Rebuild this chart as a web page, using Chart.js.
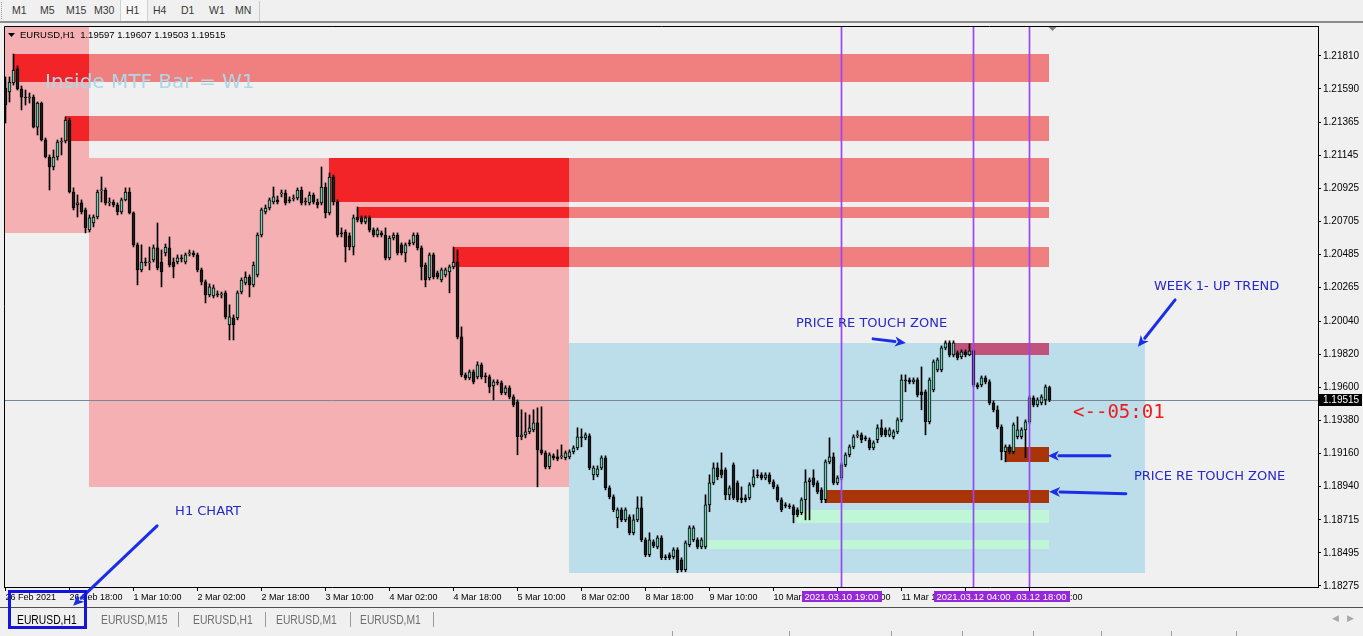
<!DOCTYPE html>
<html>
<head>
<meta charset="utf-8">
<script src="https://cdn.jsdelivr.net/npm/chart.js@4.4.1/dist/chart.umd.min.js"></script>
<style>
  body { margin: 0; width: 1363px; height: 636px; overflow: hidden; background: #f0f0f0; position: relative;
         font-family: "Liberation Sans", Arial, sans-serif; }
  #toolbar { position: absolute; left: 0; top: 0; width: 1363px; height: 21px; background: #f0f0f0;
             border-bottom: 2px solid #8c8c8c; }
  #toolbar .grip { position: absolute; left: 1px; top: 2px; height: 17px; border-left: 1px dotted #9a9a9a; }
  #toolbar .sep { position: absolute; top: 1px; height: 20px; border-left: 1px solid #c8c8c8; }
  #toolbar .tb { position: absolute; top: 4px; font-size: 10.5px; color: #383838; }
  #toolbar .pressed { position: absolute; left: 120px; top: 0; width: 26px; height: 21px; background: #f7f7f7;
                      border-left: 1px solid #d0d0d0; border-right: 1px solid #d0d0d0; }
  #wrap { position: absolute; left: 0; top: 23px; width: 1363px; height: 585px; }
  #tabs { position: absolute; left: 0; top: 607px; width: 1363px; height: 23px; border-top: 1px solid #505050; }
  #tabs .tab { position: absolute; top: 5px; font-size: 12px; color: #6d6d6d; transform: scaleX(0.86); transform-origin: left; }
  #tabs .bar { position: absolute; top: 4px; height: 15px; border-left: 1px solid #9a9a9a; }
  #tabs .arr { position: absolute; top: 5px; font-size: 9px; color: #a8a8a8; }
  #status .s { position: absolute; top: 631px; height: 5px; border-left: 1px solid #a0a0a0; }
  #focus { position: absolute; left: 8px; top: 590px; width: 73px; height: 33px; border: 3px solid #1414dc; }
</style>
</head>
<body>
<div id="toolbar">
  <span class="grip"></span>
  <span class="pressed"></span>
  <span class="tb" style="left:12px">M1</span>
  <span class="tb" style="left:40px">M5</span>
  <span class="tb" style="left:66px">M15</span>
  <span class="tb" style="left:94px">M30</span>
  <span class="tb" style="left:126px">H1</span>
  <span class="tb" style="left:153px">H4</span>
  <span class="tb" style="left:181px">D1</span>
  <span class="tb" style="left:209px">W1</span>
  <span class="tb" style="left:235px">MN</span>
  <span class="sep" style="left:259px"></span>
</div>

<div id="wrap"><canvas id="chart"></canvas></div>

<div id="tabs">
  <span class="tab" style="left:17px;color:#000">EURUSD,H1</span>
  <span class="tab" style="left:101px">EURUSD,M15</span>
  <span class="bar" style="left:178px"></span>
  <span class="tab" style="left:193px">EURUSD,H1</span>
  <span class="bar" style="left:265px"></span>
  <span class="tab" style="left:276px">EURUSD,M1</span>
  <span class="bar" style="left:350px"></span>
  <span class="tab" style="left:360px">EURUSD,M1</span>
  <span class="bar" style="left:433px"></span>
  <span class="arr" style="left:1332px">&#9664;</span>
  <span class="arr" style="left:1347px">&#9654;</span>
</div>
<div id="status">
  <span class="s" style="left:672px"></span><span class="s" style="left:789px"></span>
  <span class="s" style="left:891px"></span><span class="s" style="left:962px"></span>
  <span class="s" style="left:1033px"></span><span class="s" style="left:1101px"></span>
  <span class="s" style="left:1171px"></span><span class="s" style="left:1236px"></span>
</div>
<div id="focus"></div>

<script>
/** EURUSD H1 candles, 26 Feb 02:00 .. 12 Mar 23:00 (bar index = position in arrays) **/
const opens = [
  1.21595,1.21569,1.21629,1.21722,1.21589,1.21535,1.21529,1.21535,1.21335,1.21495,
  1.21249,1.21135,1.21069,1.21135,1.21235,1.21242,1.21382,1.20902,1.20815,1.20829,
  1.20782,1.20649,1.20695,1.20735,1.20909,1.20915,1.20829,1.20835,1.20815,1.20769,
  1.20849,1.20902,1.20762,1.20549,1.20382,1.20435,1.20429,1.20449,1.20529,1.20435,
  1.20495,1.20529,1.20435,1.20435,1.20462,1.20435,1.20489,1.20495,1.20482,1.20382,
  1.20302,1.20215,1.20209,1.20222,1.20215,1.20229,1.20015,1.20062,1.20062,1.20235,
  1.20295,1.20335,1.20282,1.20349,1.20615,1.20769,1.20795,1.20835,1.20849,1.20889,
  1.20895,1.20849,1.20855,1.20862,1.20915,1.20842,1.20829,1.20882,1.20835,1.20829,
  1.20935,1.20762,1.21002,1.20835,1.20629,1.20635,1.20609,1.20535,1.20735,1.20729,
  1.20702,1.20729,1.20649,1.20615,1.20629,1.20615,1.20462,1.20595,1.20615,1.20549,
  1.20495,1.20562,1.20562,1.20615,1.20529,1.20415,1.20329,1.20482,1.20362,1.20315,
  1.20349,1.20369,1.20402,1.20435,1.19935,1.19682,1.19662,1.19702,1.19669,1.19749,
  1.19675,1.19669,1.19609,1.19635,1.19629,1.19562,1.19595,1.19535,1.19502,1.19269,
  1.19282,1.19302,1.19315,1.19362,1.19182,1.19162,1.19069,1.19142,1.19135,1.19135,
  1.19129,1.19135,1.19169,1.19195,1.19269,1.19262,1.19275,1.19015,1.19015,1.19062,
  1.19129,1.18929,1.18869,1.18729,1.18782,1.18715,1.18735,1.18629,1.18715,1.18795,
  1.18582,1.18482,1.18569,1.18535,1.18595,1.18469,1.18482,1.18469,1.18515,1.18449,
  1.18382,1.18549,1.18582,1.18582,1.18535,1.18535,1.18815,1.18962,1.19062,1.19049,
  1.19049,1.18882,1.19082,1.18962,1.18862,1.18862,1.18862,1.18949,1.19015,1.19015,
  1.18995,1.19015,1.18969,1.18935,1.18849,1.18815,1.18809,1.18802,1.18782,1.18762,
  1.18849,1.18969,1.18995,1.18962,1.18915,1.18849,1.19102,1.19135,1.18962,1.18995,
  1.19082,1.19149,1.19202,1.19275,1.19282,1.19262,1.19249,1.19195,1.19249,1.19329,
  1.19315,1.19282,1.19269,1.19302,1.19382,1.19649,1.19649,1.19635,1.19649,1.19569,
  1.19569,1.19369,1.19582,1.19715,1.19715,1.19862,1.19895,1.19815,1.19829,1.19802,
  1.19835,1.19815,1.19842,1.19615,1.19615,1.19662,1.19635,1.19495,1.19449,1.19335,
  1.19169,1.19202,1.19169,1.19269,1.19269,1.19315,1.19369,1.19529,1.19482,1.19495,
  1.19515,1.19597
];
const highs = [
  1.21669,1.21669,1.21822,1.21742,1.21609,1.21582,1.21562,1.21549,1.21502,1.21502,
  1.21262,1.21149,1.21182,1.21249,1.21262,1.21402,1.21395,1.20929,1.20882,1.20849,
  1.20795,1.20749,1.20749,1.20915,1.21002,1.20929,1.20862,1.20849,1.20829,1.20862,
  1.20929,1.20929,1.20769,1.20562,1.20549,1.20462,1.20535,1.20549,1.20695,1.20515,
  1.20555,1.20602,1.20462,1.20482,1.20482,1.20495,1.20515,1.20509,1.20495,1.20395,
  1.20315,1.20289,1.20282,1.20242,1.20235,1.20242,1.20149,1.20082,1.20242,1.20329,
  1.20369,1.20349,1.20435,1.20629,1.20795,1.20815,1.20862,1.20935,1.20875,1.20915,
  1.20915,1.20869,1.20882,1.20929,1.20935,1.20862,1.20902,1.20895,1.20855,1.21069,
  1.20962,1.21029,1.21015,1.20849,1.20662,1.20649,1.20629,1.20749,1.20802,1.20742,
  1.20742,1.20742,1.20662,1.20662,1.20642,1.20662,1.20609,1.20629,1.20629,1.20562,
  1.20562,1.20582,1.20629,1.20629,1.20542,1.20429,1.20495,1.20495,1.20375,1.20395,
  1.20395,1.20415,1.20535,1.20515,1.20002,1.19695,1.19715,1.19715,1.19769,1.19762,
  1.19695,1.19682,1.19649,1.19649,1.19642,1.19609,1.19609,1.19549,1.19515,1.19449,
  1.19429,1.19415,1.19449,1.19462,1.19469,1.19175,1.19162,1.19155,1.19182,1.19215,
  1.19175,1.19182,1.19209,1.19329,1.19322,1.19295,1.19289,1.19075,1.19075,1.19142,
  1.19142,1.18942,1.18882,1.18795,1.18795,1.18795,1.18749,1.18749,1.18869,1.18869,
  1.18595,1.18629,1.18582,1.18609,1.18609,1.18482,1.18495,1.18529,1.18529,1.18462,
  1.18575,1.18675,1.18675,1.18595,1.18595,1.18882,1.19015,1.19095,1.19095,1.19162,
  1.19062,1.18942,1.19095,1.18975,1.18935,1.18882,1.18962,1.19049,1.19049,1.19029,
  1.19029,1.19029,1.18982,1.18949,1.18862,1.18829,1.18822,1.18815,1.18795,1.18862,
  1.19049,1.18995,1.19049,1.18975,1.18929,1.19115,1.19262,1.19162,1.19009,1.19095,
  1.19162,1.19215,1.19282,1.19309,1.19295,1.19275,1.19262,1.19242,1.19349,1.19382,
  1.19329,1.19329,1.19315,1.19395,1.19682,1.19682,1.19662,1.19662,1.19662,1.19735,
  1.19582,1.19662,1.19782,1.19795,1.19875,1.19909,1.19909,1.19909,1.19842,1.19849,
  1.19849,1.19889,1.19849,1.19629,1.19675,1.19675,1.19649,1.19509,1.19475,1.19349,
  1.19215,1.19215,1.19362,1.19402,1.19329,1.19382,1.19542,1.19542,1.19529,1.19549,
  1.19615,1.19607
];
const lows = [
  1.21362,1.21502,1.21615,1.21582,1.21449,1.21482,1.21495,1.21329,1.21282,1.21242,
  1.21129,1.20915,1.21049,1.21115,1.21149,1.21229,1.20895,1.20782,1.20735,1.20755,
  1.20629,1.20635,1.20669,1.20722,1.20835,1.20815,1.20809,1.20802,1.20749,1.20755,
  1.20842,1.20755,1.20535,1.20282,1.20369,1.20409,1.20382,1.20435,1.20382,1.20269,
  1.20475,1.20402,1.20329,1.20422,1.20435,1.20422,1.20475,1.20469,1.20369,1.20282,
  1.20162,1.20202,1.20195,1.20202,1.20195,1.20055,1.19915,1.19915,1.20049,1.20222,
  1.20282,1.20202,1.20269,1.20335,1.20602,1.20755,1.20782,1.20822,1.20822,1.20869,
  1.20815,1.20829,1.20842,1.20849,1.20815,1.20815,1.20815,1.20822,1.20795,1.20815,
  1.20729,1.20749,1.20815,1.20602,1.20602,1.20435,1.20515,1.20482,1.20702,1.20689,
  1.20689,1.20635,1.20602,1.20602,1.20602,1.20449,1.20449,1.20582,1.20482,1.20482,
  1.20435,1.20542,1.20549,1.20515,1.20315,1.20269,1.20315,1.20322,1.20322,1.20302,
  1.20335,1.20229,1.20389,1.19922,1.19669,1.19649,1.19649,1.19622,1.19655,1.19655,
  1.19629,1.19562,1.19515,1.19615,1.19549,1.19549,1.19522,1.19469,1.19149,1.19249,
  1.19262,1.19289,1.19302,1.18935,1.19149,1.19055,1.19055,1.19115,1.19109,1.19122,
  1.19115,1.19122,1.19155,1.19182,1.19202,1.19249,1.19049,1.18982,1.19002,1.19049,
  1.18915,1.18855,1.18769,1.18662,1.18702,1.18702,1.18615,1.18615,1.18702,1.18569,
  1.18469,1.18469,1.18529,1.18522,1.18449,1.18449,1.18449,1.18455,1.18362,1.18369,
  1.18369,1.18535,1.18569,1.18522,1.18522,1.18522,1.18769,1.18949,1.18982,1.18995,
  1.18849,1.18849,1.18849,1.18835,1.18829,1.18835,1.18849,1.18935,1.18995,1.18982,
  1.18982,1.18955,1.18922,1.18835,1.18769,1.18795,1.18789,1.18695,1.18735,1.18749,
  1.18715,1.18715,1.18935,1.18889,1.18829,1.18829,1.19089,1.18949,1.18949,1.18982,
  1.19069,1.19135,1.19189,1.19262,1.19229,1.19242,1.19182,1.19182,1.19229,1.19269,
  1.19269,1.19269,1.19255,1.19289,1.19369,1.19569,1.19622,1.19622,1.19535,1.19449,
  1.19282,1.19355,1.19569,1.19702,1.19702,1.19849,1.19802,1.19802,1.19782,1.19789,
  1.19802,1.19809,1.19602,1.19589,1.19602,1.19622,1.19482,1.19435,1.19322,1.19115,
  1.19102,1.19155,1.19155,1.19255,1.19255,1.19129,1.19355,1.19469,1.19469,1.19482,
  1.19482,1.19503
];
const closes = [
  1.21482,1.21635,1.21715,1.21589,1.21535,1.21529,1.21535,1.21335,1.21495,1.21249,
  1.21135,1.21069,1.21135,1.21235,1.21242,1.21382,1.20902,1.20795,1.20829,1.20769,
  1.20662,1.20729,1.20735,1.20902,1.20915,1.20829,1.20835,1.20815,1.20769,1.20849,
  1.20902,1.20762,1.20549,1.20382,1.20435,1.20429,1.20435,1.20529,1.20395,1.20369,
  1.20535,1.20415,1.20402,1.20462,1.20455,1.20482,1.20495,1.20482,1.20382,1.20302,
  1.20215,1.20269,1.20262,1.20215,1.20222,1.20069,1.20069,1.20015,1.20229,1.20315,
  1.20335,1.20282,1.20415,1.20615,1.20782,1.20795,1.20849,1.20869,1.20835,1.20895,
  1.20829,1.20842,1.20862,1.20915,1.20829,1.20835,1.20882,1.20835,1.20815,1.20935,
  1.20762,1.21002,1.20835,1.20615,1.20622,1.20535,1.20535,1.20729,1.20715,1.20702,
  1.20729,1.20649,1.20615,1.20649,1.20615,1.20462,1.20595,1.20615,1.20495,1.20495,
  1.20549,1.20555,1.20615,1.20529,1.20402,1.20315,1.20482,1.20335,1.20335,1.20382,
  1.20382,1.20402,1.20435,1.19935,1.19682,1.19662,1.19702,1.19635,1.19749,1.19669,
  1.19669,1.19602,1.19635,1.19629,1.19562,1.19595,1.19535,1.19482,1.19269,1.19282,
  1.19302,1.19329,1.19362,1.19182,1.19162,1.19069,1.19149,1.19129,1.19122,1.19142,
  1.19162,1.19169,1.19195,1.19269,1.19262,1.19282,1.19062,1.19062,1.19055,1.19129,
  1.18929,1.18869,1.18782,1.18782,1.18715,1.18782,1.18629,1.18715,1.18795,1.18582,
  1.18482,1.18582,1.18542,1.18595,1.18462,1.18462,1.18462,1.18515,1.18382,1.18382,
  1.18562,1.18662,1.18662,1.18535,1.18582,1.18815,1.18962,1.19062,1.19002,1.19015,
  1.18882,1.18929,1.18862,1.18849,1.18849,1.18849,1.18949,1.19002,1.19009,1.18995,
  1.19015,1.18969,1.18935,1.18849,1.18782,1.18809,1.18802,1.18749,1.18749,1.18849,
  1.18969,1.18982,1.18949,1.18902,1.18849,1.19102,1.19135,1.18962,1.18995,1.19082,
  1.19149,1.19202,1.19269,1.19282,1.19249,1.19255,1.19195,1.19229,1.19329,1.19282,
  1.19282,1.19315,1.19302,1.19382,1.19649,1.19642,1.19635,1.19649,1.19549,1.19549,
  1.19369,1.19649,1.19769,1.19782,1.19862,1.19895,1.19815,1.19895,1.19795,1.19835,
  1.19815,1.19842,1.19615,1.19602,1.19662,1.19635,1.19495,1.19449,1.19335,1.19169,
  1.19202,1.19169,1.19349,1.19315,1.19315,1.19369,1.19529,1.19482,1.19515,1.19535,
  1.19602,1.19515
];

/** Axis labels **/
const yTickValues = [1.21810, 1.21590, 1.21365, 1.21145, 1.20925, 1.20705, 1.20485, 1.20265, 1.20040,
                     1.19820, 1.19600, 1.19380, 1.19160, 1.18940, 1.18715, 1.18495, 1.18275];
const xTickLabels = ['26 Feb 2021', '26 Feb 18:00', '1 Mar 10:00', '2 Mar 02:00', '2 Mar 18:00', '3 Mar 10:00',
                     '4 Mar 02:00', '4 Mar 18:00', '5 Mar 10:00', '8 Mar 02:00', '8 Mar 18:00', '9 Mar 10:00',
                     '10 Mar 02:00', '10 Mar 18:00', '11 Mar 10:00', '12 Mar 02:00', '12 Mar 18:00'];
const barsPerLabel = 16;

/** Zone rectangles: bar index from/to, price top/bottom **/
const zoneStart  = [-1, 21, 141, 2, 21, 15, 21, 81, 141, 88, 141, 112, 141, 237, 250, 205, 198, 175];
const zoneEnd    = [21, 141, 285, 21, 261, 21, 261, 141, 261, 141, 261, 141, 261, 261, 261, 261, 261, 261];
const zoneTop    = [1.22100, 1.21129, 1.19895, 1.21822, 1.21822, 1.21409, 1.21409, 1.21129, 1.21129,
                    1.20802, 1.20802, 1.20535, 1.20535, 1.19895, 1.19202, 1.18915, 1.18782, 1.18582];
const zoneBottom = [1.20629, 1.18935, 1.18362, 1.21635, 1.21635, 1.21242, 1.21242, 1.20835, 1.20835,
                    1.20729, 1.20729, 1.20402, 1.20402, 1.19815, 1.19102, 1.18829, 1.18695, 1.18522];

/** Vertical marker lines **/
const markerBars = [209, 242, 256];
const markerLabels = ['2021.03.10 19:00', '2021.03.12 04:00', '2021.03.12 18:00'];

/** Styles **/
const pink = '#f4b0b2', sky = '#bcdeea', red = '#f22428', coral = '#f07f7f',
      maroon = '#c0527c', brown = '#a93408', mint = '#bff7d6';
const zoneColors = [pink, pink, sky, red, coral, red, coral, red, coral, red, coral, red, coral,
                    maroon, brown, brown, mint, mint];
const purple = '#9628dc';
const lineViolet = '#9a46f5';
const noteBlue = '#2828c8';

//  Text notes and arrows, placed by bar index and price
const notes = [
  { text: 'Inside MTF Bar = W1', bar: 9.9, price: 1.21595, font: '20px "DejaVu Sans"', color: '#add8e6' },
  { text: 'WEEK 1- UP TREND', bar: 287.1, price: 1.20249, font: '13px "DejaVu Sans"', color: noteBlue },
  { text: 'PRICE RE TOUCH ZONE', bar: 197.6, price: 1.20002, font: '13px "DejaVu Sans"', color: noteBlue },
  { text: 'PRICE RE TOUCH ZONE', bar: 282.1, price: 1.18982, font: '13px "DejaVu Sans"', color: noteBlue },
  { text: 'H1 CHART', bar: 42.4, price: 1.18749, font: '13px "DejaVu Sans"', color: noteBlue },
  { text: '<--05:01', bar: 266.9, price: 1.19395, font: '19px "DejaVu Sans Mono"', color: '#ec1c1c' },
];
const arrows = [
  [292.4, 1.20182, 283.1, 1.19869],
  [216.9, 1.19922, 225.1, 1.19895],
  [276.1, 1.19142, 260.6, 1.19142],
  [280.1, 1.18889, 260.9, 1.18902],
  [37.9, 1.18675, 16.9, 1.18142],
];

/** Build candle datasets **/
const wickData = lows.map((l, i) => ({ x: i, y: [l, highs[i]] }));
const bodyData = opens.map((o, i) => ({ x: i, y: [o, closes[i]] }));
const bodyColors = opens.map((o, i) => (closes[i] >= o ? '#6fcdb0' : '#1e1e1e'));
const lastClose = closes[closes.length - 1];

function drawArrow(ctx, x0, y0, x1, y1) {
  const ang = Math.atan2(y1 - y0, x1 - x0), head = 11, half = 5;
  const bx = x1 - head * Math.cos(ang), by = y1 - head * Math.sin(ang);
  ctx.beginPath(); ctx.moveTo(x0, y0); ctx.lineTo(bx, by); ctx.stroke();
  ctx.beginPath();
  ctx.moveTo(x1, y1);
  ctx.lineTo(bx + half * Math.sin(ang), by - half * Math.cos(ang));
  ctx.lineTo(bx + 3 * Math.cos(ang), by + 3 * Math.sin(ang));
  ctx.lineTo(bx - half * Math.sin(ang), by + half * Math.cos(ang));
  ctx.closePath(); ctx.fill();
}

/** Plugin for the MT4 style objects **/
const mtPlugin = {
  id: 'mt4',
  beforeDatasetsDraw(chart) {
    const { ctx, chartArea: a, scales: { x, y } } = chart;
    ctx.save();
    ctx.beginPath(); ctx.rect(a.left, a.top, a.width, a.height); ctx.clip();
    zoneStart.forEach((s, k) => {
      const x0 = Math.floor(x.getPixelForValue(s)), x1 = Math.floor(x.getPixelForValue(zoneEnd[k]));
      const y0 = Math.round(y.getPixelForValue(zoneTop[k])), y1 = Math.round(y.getPixelForValue(zoneBottom[k]));
      ctx.fillStyle = zoneColors[k];
      ctx.fillRect(x0, y0, x1 - x0, y1 - y0);
    });
    //  Bid line
    const py = Math.round(y.getPixelForValue(lastClose)) + 0.5;
    ctx.strokeStyle = '#778899'; ctx.lineWidth = 1;
    ctx.beginPath(); ctx.moveTo(a.left, py); ctx.lineTo(a.right, py); ctx.stroke();
    ctx.restore();
  },
  afterDatasetsDraw(chart) {
    const { ctx, chartArea: a, scales: { x } } = chart;
    ctx.save();
    markerBars.forEach(b => {
      const px = Math.floor(x.getPixelForValue(b));
      //  1px line with a faint halo so the violet keeps its colour
      ctx.fillStyle = 'rgba(154, 70, 245, 0.35)';
      ctx.fillRect(px - 1, a.top, 3, a.bottom - a.top);
      ctx.fillStyle = lineViolet;
      ctx.fillRect(px, a.top, 1, a.bottom - a.top);
    });
    ctx.restore();
  },
  afterDraw(chart) {
    const { ctx, chartArea: a, scales: { x, y } } = chart;
    ctx.save();
    //  Frame top and left
    ctx.strokeStyle = '#000'; ctx.lineWidth = 1;
    ctx.beginPath();
    ctx.moveTo(a.left + 0.5, a.bottom); ctx.lineTo(a.left + 0.5, a.top + 0.5); ctx.lineTo(a.right, a.top + 0.5);
    ctx.stroke();

    //  Header
    ctx.fillStyle = '#000';
    ctx.beginPath();
    ctx.moveTo(a.left + 4, a.top + 7); ctx.lineTo(a.left + 11, a.top + 7); ctx.lineTo(a.left + 7.5, a.top + 11);
    ctx.closePath(); ctx.fill();
    ctx.font = '9.5px "Liberation Sans"'; ctx.textBaseline = 'alphabetic'; ctx.textAlign = 'left';
    ctx.fillText('EURUSD,H1  ' + [opens, highs, lows, closes].map(s => s[s.length - 1].toFixed(5)).join(' '),
                 a.left + 16, a.top + 12);

    //  Chart shift marker
    const sx = Math.floor(x.getPixelForValue(261.75)) + 0.5;
    ctx.fillStyle = '#7a8088';
    ctx.beginPath(); ctx.moveTo(sx - 4, a.top + 1); ctx.lineTo(sx + 4, a.top + 1); ctx.lineTo(sx, a.top + 5);
    ctx.closePath(); ctx.fill();

    //  Marker time boxes on the time axis (last first)
    ctx.font = '9.5px "Liberation Sans"'; ctx.textAlign = 'center'; ctx.textBaseline = 'middle';
    for (let k = markerBars.length - 1; k >= 0; k--) {
      const px = Math.floor(x.getPixelForValue(markerBars[k])) + 0.5;
      const w = ctx.measureText(markerLabels[k]).width + 6;
      ctx.fillStyle = purple;
      ctx.fillRect(Math.round(px - w / 2), a.bottom + 4, Math.round(w), 11);
      ctx.fillStyle = '#fff';
      ctx.fillText(markerLabels[k], px, a.bottom + 10);
    }

    //  Bid price box
    const by = Math.round(y.getPixelForValue(lastClose));
    ctx.fillStyle = '#000';
    ctx.fillRect(a.right + 1, by - 6, 43, 12);
    ctx.fillStyle = '#fff'; ctx.textAlign = 'left';
    ctx.font = '10px "Liberation Sans"';
    ctx.fillText(lastClose.toFixed(5), a.right + 5, by);

    //  Notes
    ctx.textBaseline = 'alphabetic';
    notes.forEach(n => {
      ctx.font = n.font; ctx.fillStyle = n.color;
      ctx.fillText(n.text, x.getPixelForValue(n.bar), y.getPixelForValue(n.price));
    });

    //  Arrows
    ctx.strokeStyle = '#1a2ee8'; ctx.fillStyle = '#1a2ee8'; ctx.lineWidth = 3; ctx.lineCap = 'round';
    arrows.forEach(r => drawArrow(ctx, x.getPixelForValue(r[0]), y.getPixelForValue(r[1]),
                                       x.getPixelForValue(r[2]), y.getPixelForValue(r[3])));
    ctx.restore();
  }
};

const myChart = new Chart(document.getElementById('chart'), {
  type: 'bar',
  data: {
    datasets: [
      { data: bodyData, backgroundColor: bodyColors, borderColor: '#000', borderWidth: 1, borderSkipped: false,
        barThickness: 3, minBarLength: 1, grouped: false, order: 1 },
      { data: wickData, backgroundColor: '#000', borderWidth: 0, barThickness: 1, grouped: false, order: 2 },
    ],
  },
  options: {
    responsive: true,
    maintainAspectRatio: false,
    animation: false,
    devicePixelRatio: 1,
    events: [],
    layout: { padding: { left: 4, top: 3, right: 0, bottom: 0 } },
    plugins: { legend: { display: false }, tooltip: { enabled: false } },
    scales: {
      x: {
        type: 'linear', min: -0.375, max: 328.125, offset: false, position: 'bottom',
        afterBuildTicks: s => { s.ticks = xTickLabels.map((_, k) => ({ value: k * barsPerLabel })); },
        afterFit: s => { s.height = 21; s.paddingLeft = 0; s.paddingRight = 0; },
        ticks: { autoSkip: false, maxRotation: 0, align: 'start', padding: 1, color: '#000',
                 font: { family: 'Liberation Sans', size: 9 }, callback: (v, k) => xTickLabels[k] },
        grid: { drawOnChartArea: false, drawTicks: true, tickLength: 4, color: '#000', offset: false },
        border: { display: true, color: '#000' },
      },
      y: {
        type: 'linear', position: 'right', min: 1.18267, max: 1.22009,
        afterBuildTicks: s => { s.ticks = yTickValues.map(v => ({ value: v })); },
        afterFit: s => { s.width = 45; s.paddingTop = 0; s.paddingBottom = 0; },
        ticks: { padding: 2, color: '#000', font: { family: 'Liberation Sans', size: 10 },
                 callback: v => v.toFixed(5) },
        grid: { drawOnChartArea: false, drawTicks: true, tickLength: 3, color: '#000' },
        border: { display: true, color: '#000' },
      },
    },
  },
  plugins: [mtPlugin],
});
</script>
</body>
</html>
